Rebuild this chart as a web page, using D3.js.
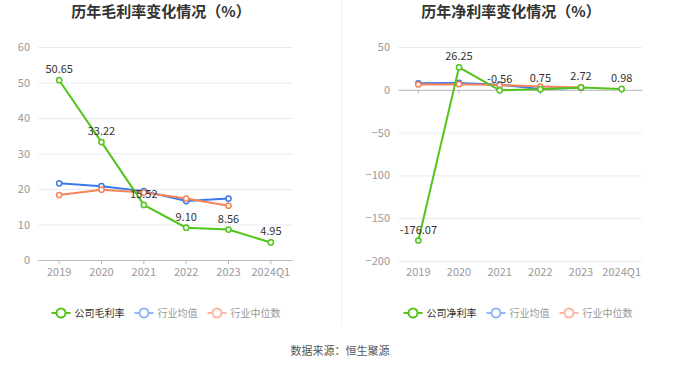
<!DOCTYPE html>
<html><head><meta charset="utf-8">
<script src="https://cdn.jsdelivr.net/npm/d3@7"></script>
<style>
html,body{margin:0;padding:0;background:#fff;}
svg{display:block;font-family:"Noto Sans CJK SC","Noto Sans",sans-serif;}
</style></head>
<body><svg id="c" width="680" height="367"></svg>
<script>
const categories = ["2019","2020","2021","2022","2023","2024Q1"];
const grossCompany = [50.65, 33.22, 15.52, 9.10, 8.56, 4.95];
const grossAvg = [21.6, 20.8, 19.4, 16.6, 17.3];
const grossMedian = [18.3, 19.8, 19.0, 17.3, 15.3];
const netCompany = [-176.07, 26.25, -0.56, 0.75, 2.72, 0.98];
const netAvg = [7.6, 8.0, 6.0, 0.8, 2.4];
const netMedian = [6.2, 6.6, 5.6, 3.8, 2.8];
const grossTicks = [0,10,20,30,40,50,60];
const netTicks = [-200,-150,-100,-50,0,50];
const titles = ["历年毛利率变化情况（%）","历年净利率变化情况（%）"];
const legendNames = [["公司毛利率","行业均值","行业中位数"],["公司净利率","行业均值","行业中位数"]];
const source = "数据来源：恒生聚源";

const COLORS = ["#52c41a","#3b78f0","#f5845a"];
const LEGEND_COLORS = ["#52c41a","#93b4f5","#f9b9a0"];
const svg = d3.select("#c");

// divider
svg.append("line").attr("x1",341.5).attr("x2",341.5).attr("y1",0).attr("y2",325)
  .attr("stroke","#f0f0f0").attr("stroke-width",1);

function panel(cfg){
  const g = svg.append("g");
  const x = d3.scaleBand().domain(categories).range(cfg.xr);
  const cx = d => x(d) + x.bandwidth()/2;
  const y = d3.scaleLinear().domain(cfg.yd).range(cfg.yr);

  // title
  g.append("text").attr("x",cfg.titleX).attr("y",17).attr("text-anchor","middle")
    .attr("font-size",15).attr("font-weight","bold").attr("fill","#333").text(cfg.title);

  // grid
  const yAxis = d3.axisLeft(y).tickValues(cfg.ticks).tickSize(-(cfg.xr[1]-cfg.xr[0])).tickPadding(8);
  const ya = g.append("g").attr("transform",`translate(${cfg.xr[0]},0)`).call(yAxis);
  ya.select(".domain").remove();
  ya.selectAll(".tick line").attr("stroke","#e6ebf5");
  ya.selectAll(".tick text").attr("fill","#999").attr("font-size",11).attr("font-family","'Noto Sans CJK SC',sans-serif");

  // x axis line at baseline
  const xAxis = d3.axisBottom(x).tickSize(4).tickSizeOuter(0).tickFormat("");
  const xa = g.append("g").attr("transform",`translate(0,${y(cfg.axisAt)})`).call(xAxis);
  xa.select(".domain").attr("stroke","#bbb");
  xa.selectAll(".tick line").attr("stroke","#bbb");
  xa.selectAll(".tick text").remove();
  // x labels at the bottom
  g.selectAll(".xl").data(categories).enter().append("text")
    .attr("x",d=>cx(d)).attr("y",276).attr("text-anchor","middle")
    .attr("font-size",11).attr("fill","#999").text(d=>d);

  const line = d3.line().x((d,i)=>cx(categories[i])).y(d=>y(d));
  const series = [[cfg.avg,1],[cfg.median,2],[cfg.company,0]];
  series.forEach(([data,ci])=>{
    g.append("path").datum(data).attr("d",line).attr("fill","none")
      .attr("stroke",COLORS[ci]).attr("stroke-width",2);
    g.selectAll(null).data(data).enter().append("circle")
      .attr("cx",(d,i)=>cx(categories[i])).attr("cy",d=>y(d)).attr("r",2.6)
      .attr("fill","#fff").attr("stroke",COLORS[ci]).attr("stroke-width",1.5);
  });
  g.selectAll(null).data(cfg.company).enter().append("text")
    .attr("x",(d,i)=>cx(categories[i])).attr("y",d=>y(d)-7)
    .attr("text-anchor","middle").attr("font-size",11).attr("fill","#333")
    .text(d=>d.toFixed(2));

  // legend
  const lg = g.append("g");
  let off = 0;
  cfg.legend.forEach((name,i)=>{
    const it = lg.append("g").attr("transform",`translate(${off},0)`);
    it.append("line").attr("x1",0).attr("x2",19).attr("y1",0).attr("y2",0)
      .attr("stroke",LEGEND_COLORS[i]).attr("stroke-width",2);
    it.append("circle").attr("cx",9.5).attr("cy",0).attr("r",4.5).attr("fill","#fff")
      .attr("stroke",LEGEND_COLORS[i]).attr("stroke-width",2);
    const t = it.append("text").attr("x",23).attr("y",3.5).attr("font-size",10)
      .attr("fill", i===0?"#333":"#999").text(name);
    off += 23 + t.node().getComputedTextLength() + 10;
  });
  const w = off - 10;
  lg.attr("transform",`translate(${cfg.legendCx - w/2},313)`);
}

panel({xr:[38,292], yd:[0,60], yr:[260,47], ticks:grossTicks, axisAt:0,
  company:grossCompany, avg:grossAvg, median:grossMedian,
  title:titles[0], titleX:161, legend:legendNames[0], legendCx:166});
panel({xr:[398,642], yd:[-200,50], yr:[261,47], ticks:netTicks, axisAt:0,
  company:netCompany, avg:netAvg, median:netMedian,
  title:titles[1], titleX:511, legend:legendNames[1], legendCx:518});

svg.append("text").attr("x",340).attr("y",355).attr("text-anchor","middle")
  .attr("font-size",11).attr("fill","#555").text(source);
</script></body></html>
